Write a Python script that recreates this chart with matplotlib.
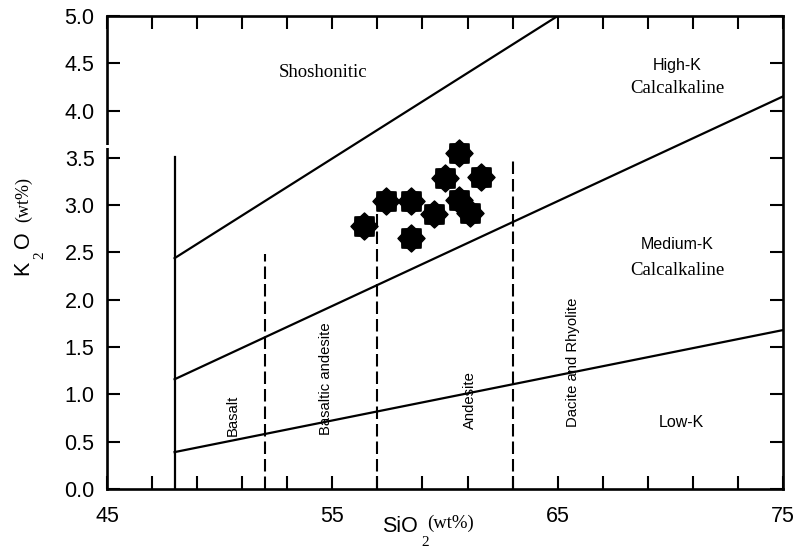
import numpy as np
import matplotlib
matplotlib.use("Agg")
import matplotlib.pyplot as plt
from matplotlib.path import Path

# samples
sio2 = [56.4, 57.4, 58.5, 58.5, 59.5, 60.0, 60.6, 61.6, 60.6, 61.1]
k2o = [2.78, 3.04, 3.04, 2.65, 2.91, 3.29, 3.55, 3.30, 3.05, 2.92]

# field boundaries (Peccerillo & Taylor)
shosh_x = [48, 65]
shosh_y = [2.44, 5.0]
highk_x = [48, 75]
highk_y = [1.16, 4.15]
lowk_x = [48, 75]
lowk_y = [0.39, 1.68]
basalt_line_x = 48
basalt_line_top = 3.51
dash_x = [52, 57, 63]
dash_top = [2.48, 2.95, 3.48]

xticks = list(range(45, 76, 2))
xticklabels = [str(v) if v in (45, 55, 65, 75) else "" for v in xticks]
yticks = [0.0, 0.5, 1.0, 1.5, 2.0, 2.5, 3.0, 3.5, 4.0, 4.5, 5.0]
yticklabels = ["%.1f" % v for v in yticks]

sans = "Liberation Sans"
serif = "Liberation Serif"

# 8-pointed star marker
ang = np.linspace(0, 2 * np.pi, 17)[:-1] + np.pi / 2
rad = np.where(np.arange(16) % 2 == 0, 1.0, 0.78)
verts = np.column_stack([rad * np.cos(ang), rad * np.sin(ang)])
verts = np.vstack([verts, verts[:1]])
codes = [Path.MOVETO] + [Path.LINETO] * 15 + [Path.CLOSEPOLY]
star8 = Path(verts, codes)

fig = plt.figure(figsize=(8.07, 5.54), dpi=100)
ax = fig.add_axes([107 / 807, 1 - 489 / 554, 676 / 807, 473 / 554])

lw = 1.6
ax.plot(shosh_x, shosh_y, color="black", lw=lw)
ax.plot(highk_x, highk_y, color="black", lw=lw)
ax.plot(lowk_x, lowk_y, color="black", lw=lw)
ax.plot([basalt_line_x, basalt_line_x], [0, basalt_line_top], color="black", lw=lw)
for xv, top in zip(dash_x, dash_top):
    ax.plot([xv, xv], [0, top], color="black", lw=1.5, dashes=(6, 2.4))

ax.plot(sio2, k2o, linestyle="none", marker=star8, markersize=19.5,
        color="black", zorder=5)

# field names
ax.text(54.6, 4.40, "Shoshonitic", family=serif, fontsize=13.5, ha="center", va="center")
ax.text(70.3, 4.48, "High-K", family=sans, fontsize=11.5, ha="center", va="center")
ax.text(70.3, 4.23, "Calcalkaline", family=serif, fontsize=13.5, ha="center", va="center")
ax.text(70.3, 2.58, "Medium-K", family=sans, fontsize=11.5, ha="center", va="center")
ax.text(70.3, 2.31, "Calcalkaline", family=serif, fontsize=13.5, ha="center", va="center")
ax.text(70.5, 0.70, "Low-K", family=sans, fontsize=11.5, ha="center", va="center")
ax.text(50.56, 0.78, "Basalt", family=sans, fontsize=10.7, rotation=90, ha="center", va="center")
ax.text(54.7, 1.17, "Basaltic andesite", family=sans, fontsize=10.7, rotation=90, ha="center", va="center")
ax.text(61.1, 0.94, "Andesite", family=sans, fontsize=10.7, rotation=90, ha="center", va="center")
ax.text(65.7, 1.34, "Dacite and Rhyolite", family=sans, fontsize=10.7, rotation=90, ha="center", va="center")

ax.set_xlim(45, 75)
ax.set_ylim(0, 5)
ax.set_xticks(xticks)
ax.set_xticklabels(xticklabels, family=sans, fontsize=15.5)
ax.set_yticks(yticks)
ax.set_yticklabels(yticklabels, family=sans, fontsize=15.5)
ax.tick_params(direction="in", length=9.5, width=1.5, top=True, right=True)
ax.tick_params(axis="x", pad=12)
ax.tick_params(axis="y", pad=9)
for s in ax.spines.values():
    s.set_linewidth(1.9)

# small break in the left spine
ax.plot([45, 45], [3.605, 3.635], color="white", lw=4, solid_capstyle="butt",
        clip_on=False, zorder=10)


def px(x, y):
    return x / 807, 1 - y / 554


# axis titles
fig.text(*px(400, 526), "SiO", family=sans, fontsize=15.5, ha="center", va="center")
fig.text(*px(425, 542), "2", family=serif, fontsize=11, ha="center", va="center")
fig.text(*px(451, 523), "(wt%)", family=serif, fontsize=13.5, ha="center", va="center")

fig.text(*px(23, 268), "K", family=sans, fontsize=15.5, rotation=90, ha="center", va="center")
fig.text(*px(40, 255), "2", family=serif, fontsize=11, rotation=90, ha="center", va="center")
fig.text(*px(23, 240), "O", family=sans, fontsize=15.5, rotation=90, ha="center", va="center")
fig.text(*px(24, 200), "(wt%)", family=serif, fontsize=13, rotation=90, ha="center", va="center")

fig.savefig("out.png", dpi=100)
